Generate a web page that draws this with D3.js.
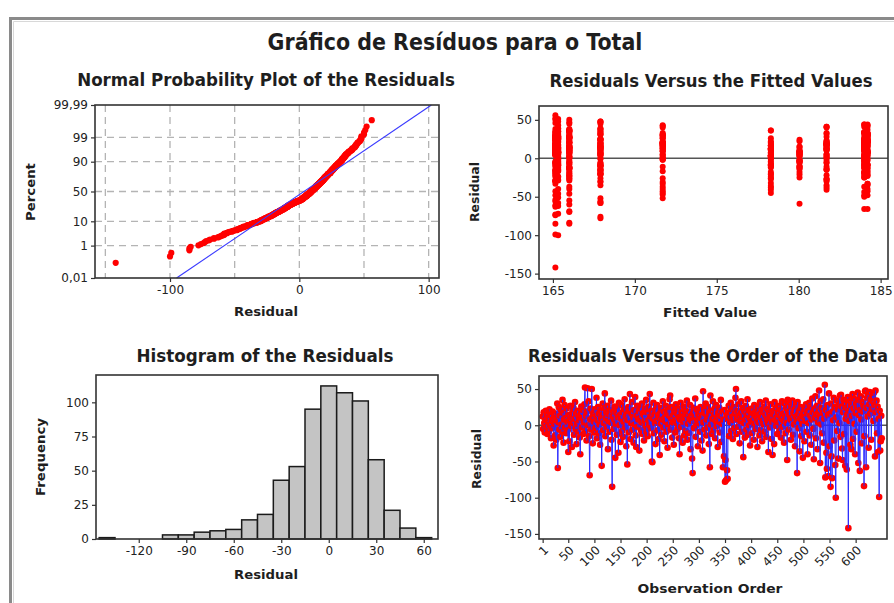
<!DOCTYPE html>
<html><head><meta charset="utf-8">
<script src="https://cdn.jsdelivr.net/npm/d3@7"></script>
<style>body{margin:0;background:#fff;}svg{display:block;}</style>
</head><body>
<svg id="chart" width="894" height="603"></svg>
<script>
// ---------------- DATA ----------------
// residuals in observation order (read/estimated from the "Versus Order" panel)
const residuals = [
12,-5,18,3,-10,8,20,-2,15,-12,5,10,-8,22,0,14,-18,6,-4,19,9,-28,2,16,-14,
7,-20,11,30,-59,4,25,-6,13,-16,21,1,-9,35,17,-24,8,28,-3,10,-11,23,5,-7,-37,
14,-22,6,27,-1,11,-30,18,3,24,-13,9,32,-5,16,-26,2,20,-9,12,7,-17,-40,15,26,
-3,10,21,-12,4,29,52,-8,13,-21,19,51,0,33,-15,-69,8,23,-6,50,11,-25,17,5,-10,
22,-4,13,38,-18,7,25,-11,16,1,-27,20,9,-56,14,30,-7,3,24,44,-15,10,18,-2,27,
-33,6,15,-9,21,4,34,-20,-85,12,19,-5,8,26,-45,2,17,-13,23,11,-38,31,0,14,-23,
9,28,-8,18,-16,5,22,36,-3,12,-29,15,-54,7,25,-10,20,43,-19,3,16,32,-6,11,-24,
21,1,39,-14,-30,13,27,-2,8,19,-35,10,24,-7,4,30,-12,17,14,-21,6,23,-1,35,-9,
18,-15,7,26,0,43,12,-4,20,-50,-51,9,31,-11,15,3,-26,22,6,28,-7,14,-19,10,-41,
17,2,24,-13,8,33,-3,19,-22,11,5,27,-9,16,-31,21,1,13,36,41,-6,9,25,-17,4,
14,-27,20,7,-10,29,3,16,-5,23,11,-18,-40,8,31,-2,18,12,-24,5,26,-14,10,21,-8,
15,34,-20,2,19,-11,9,28,-33,13,6,-46,-66,17,24,-4,11,37,-16,0,22,7,-29,15,3,
19,-9,25,10,-21,14,-35,47,4,22,-6,16,30,-14,8,26,-3,12,-26,18,-58,41,1,20,-12,
9,33,-7,15,23,-18,6,28,-1,11,-30,17,5,24,-10,13,35,-23,2,19,-58,8,-43,21,-78,
-48,-76,14,-62,-74,10,27,-15,18,4,31,-8,22,12,-19,7,25,-4,16,38,50,-12,9,20,-2,
29,13,-25,6,17,33,-9,11,24,-44,3,19,-17,8,27,-6,14,36,-13,21,0,10,-28,18,5,
23,-11,7,16,-20,28,2,13,-5,19,9,-30,25,4,15,-14,32,11,-7,21,-22,6,18,1,26,
-9,14,34,-16,8,22,3,-37,17,10,-3,29,12,-19,5,-41,20,15,-26,32,7,24,-1,11,-12,
18,4,27,-8,13,21,-17,9,33,-2,16,6,-24,30,12,-11,24,3,-48,35,19,-6,14,31,8,
-20,26,10,34,-13,17,1,22,-29,12,28,5,-66,32,15,-4,20,-36,9,25,-15,13,2,-45,18,
11,-22,24,6,29,-9,16,-40,20,3,31,-14,13,25,-27,8,37,18,-5,-47,22,10,40,-18,15,
27,-33,4,19,48,12,-52,33,1,24,-11,17,36,-24,9,56,-72,21,-38,-60,28,14,-70,44,-29,
16,-85,30,-43,-73,19,7,38,-21,25,-55,-100,11,34,-8,22,-46,29,3,41,-16,42,26,-32,-48,
18,35,-12,31,-56,9,24,-61,15,39,-142,20,6,33,-27,28,-33,13,43,-19,23,37,2,-40,17,
30,-9,25,45,-52,14,35,-63,21,40,8,-25,32,19,27,-84,-15,47,48,-58,24,38,12,44,-31,
29,46,16,36,-20,22,41,33,6,45,28,-43,48,18,34,-11,26,-37,9,-99,20,-35,-22,13,-18
];
// fitted-value level index for each observation
const fittedGroup = [
2,0,8,5,3,1,9,6,4,2,7,0,5,9,3,1,8,2,6,4,0,7,5,9,1,
3,2,8,0,6,9,1,5,7,0,4,2,9,3,8,5,1,7,2,0,4,9,3,8,4,
0,9,1,2,5,8,3,7,6,0,2,4,9,1,5,3,8,2,0,7,9,1,4,3,5,
8,2,1,5,0,4,0,9,3,6,8,1,2,7,0,2,5,9,3,2,1,8,4,0,6,
1,0,5,2,8,9,3,6,2,4,7,0,8,3,1,9,2,5,6,8,3,0,7,4,2,
9,1,0,5,2,3,8,0,2,4,7,6,9,1,5,2,3,8,0,7,5,4,1,2,9,
3,0,2,7,9,1,6,5,8,0,2,4,0,3,9,1,2,4,8,5,0,3,7,9,1,
2,8,1,3,0,5,9,4,6,0,7,2,8,1,3,4,9,0,2,5,6,7,3,1,8,
0,3,9,2,5,9,1,8,4,8,1,0,3,2,7,6,5,9,0,4,1,2,8,3,7,
5,1,0,9,2,8,6,3,0,7,4,2,1,8,3,9,5,0,2,7,3,6,1,4,0,
9,2,3,0,8,1,5,4,7,0,2,6,2,9,3,1,8,5,0,7,4,2,9,3,1,
0,8,5,2,9,3,1,0,4,7,6,2,8,1,3,5,2,9,0,4,8,3,1,6,2,
4,1,9,0,3,2,9,3,5,8,0,7,2,6,1,4,9,3,2,0,3,7,8,5,1,
2,0,8,3,9,5,1,2,4,0,7,9,6,1,3,8,0,2,5,9,3,1,4,7,3,
9,3,0,1,0,8,2,7,4,5,1,3,9,6,2,0,8,1,5,3,0,2,9,4,7,
0,1,8,6,2,9,3,5,0,8,4,7,2,9,1,0,3,5,6,2,8,4,1,3,9,
2,0,5,8,3,1,9,4,2,7,6,0,3,8,1,2,9,5,0,4,7,3,8,1,0,
9,2,3,1,0,5,7,8,4,2,6,9,1,3,0,5,8,2,4,7,1,0,9,3,2,
1,8,2,5,0,9,3,6,4,1,7,0,2,9,8,5,3,1,8,2,4,6,0,9,2,
3,0,1,8,2,5,7,9,0,3,1,4,9,2,8,6,0,5,1,3,7,2,8,4,0,
5,2,0,8,1,3,9,9,4,6,0,7,2,8,5,1,3,0,2,4,9,7,7,0,3,
1,0,5,3,3,8,4,9,7,2,6,0,2,1,4,0,1,8,7,2,9,3,2,9,0,
2,0,9,0,0,4,6,1,3,8,2,1,5,0,9,7,1,2,8,8,3,4,0,5,0,
7,2,8,4,0,9,1,0,6,3,0,5,2,8,7,1,9,4,1,0,3,2,5,1,8,
0,5,9,3,3,8,1,0,7,4,2,6,9,0,2,2,1,2,1,1,8,0,5,8,4,
8,0,3,2,9,4,9,1,5,2,0,9,3,8,2,7,1,2,6,0,4,3,8,5,9
];
const fittedLevels = [165.15,165.32,166.0,167.9,171.7,178.3,180.05,181.7,184.0,184.2];
// histogram (bin centres / counts)
const histCenters = [-140,-130,-120,-110,-100,-90,-80,-70,-60,-50,-40,-30,-20,-10,0,10,20,30,40,50,60];
const histCounts  = [1,0,0,0,3,3,5,6,7,14,18,43,53,95,112,107,101,58,21,8,1];
// tick labels
const probTickPct    = [0.01,1,10,50,90,99,99.99];
const probTickLabels = ["0,01","1","10","50","90","99","99,99"];
const probGridPct    = [1,10,50,90,99];
const probXTicks     = [-100,0,100];
const probXGrid      = [-150,-100,-50,0,50,100];
const residTicks     = [50,0,-50,-100,-150];
const fittedTicks    = [165,170,175,180,185];
const histXTicks     = [-120,-90,-60,-30,0,30,60];
const histYTicks     = [0,25,50,75,100];
const orderTicks     = [1,50,100,150,200,250,300,350,400,450,500,550,600];

const mainTitle = "Gráfico de Resíduos para o Total";
const titles = ["Normal Probability Plot of the Residuals","Residuals Versus the Fitted Values",
                "Histogram of the Residuals","Residuals Versus the Order of the Data"];

// ---------------- HELPERS ----------------
function qnorm(p){
  const a=[-3.969683028665376e+01,2.209460984245205e+02,-2.759285104469687e+02,1.383577518672690e+02,-3.066479806614716e+01,2.506628277459239e+00];
  const b=[-5.447609879822406e+01,1.615858368580409e+02,-1.556989798598866e+02,6.680131188771972e+01,-1.328068155288572e+01];
  const c=[-7.784894002430293e-03,-3.223964580411365e-01,-2.400758277161838e+00,-2.549732539343734e+00,4.374664141464968e+00,2.938163982698783e+00];
  const d=[7.784695709041462e-03,3.224671290700398e-01,2.445134137142996e+00,3.754408661907416e+00];
  const pl=0.02425, ph=1-pl; let q,r;
  if(p<pl){q=Math.sqrt(-2*Math.log(p));return (((((c[0]*q+c[1])*q+c[2])*q+c[3])*q+c[4])*q+c[5])/((((d[0]*q+d[1])*q+d[2])*q+d[3])*q+1);}
  if(p>ph){q=Math.sqrt(-2*Math.log(1-p));return -(((((c[0]*q+c[1])*q+c[2])*q+c[3])*q+c[4])*q+c[5])/((((d[0]*q+d[1])*q+d[2])*q+d[3])*q+1);}
  q=p-0.5;r=q*q;return (((((a[0]*r+a[1])*r+a[2])*r+a[3])*r+a[4])*r+a[5])*q/(((((b[0]*r+b[1])*r+b[2])*r+b[3])*r+b[4])*r+1);
}
const svg = d3.select("#chart");
const FONT = "DejaVu Sans, Verdana, sans-serif";
const RED = "#ff0000", BLUE = "#2a2aff", INK = "#1e1e1e";

// bold text squeezed horizontally (via transform) to a target width
function title(x, y, str, size, len, rot){
  const t = svg.append("text").attr("text-anchor","middle")
    .attr("font-family",FONT).attr("font-weight","bold").attr("font-size",size)
    .attr("fill",INK).text(str);
  const w = t.node().getComputedTextLength();
  const s = w>0 ? len/w : 1;
  t.attr("transform", rot ? `translate(${x},${y}) rotate(-90) scale(${s},1)`
                          : `translate(${x},${y}) scale(${s},1)`);
}
function ylabel(x, y, str, len){ title(x, y, str, 12.5, len, true); }
function styleAxis(g){
  g.attr("font-family",FONT).attr("font-size",12);
  g.select(".domain").remove();
  g.selectAll(".tick line").attr("stroke","#333").attr("stroke-width",1.2);
  g.selectAll(".tick text").attr("fill","#222");
}
function frame(x0,y0,x1,y1){
  svg.append("rect").attr("x",x0).attr("y",y0).attr("width",x1-x0).attr("height",y1-y0)
    .attr("fill","none").attr("stroke","#333").attr("stroke-width",1.6);
}
const neg = d=>d<0?"-"+Math.abs(d):d;

// outer window frame
svg.append("path").attr("d","M10.5,603 V18.5 H894").attr("fill","none").attr("stroke","#8a8a8a").attr("stroke-width",3);
svg.append("path").attr("d","M13.5,603 V21.5 H894").attr("fill","none").attr("stroke","#d8d8d8").attr("stroke-width",1);

title(455, 50, mainTitle, 23, 375);
title(266, 86, titles[0], 17, 378);
title(711, 87, titles[1], 17, 323);
title(265, 362, titles[2], 17, 257);
title(708, 362, titles[3], 17, 360);

// ---------------- PANEL 1: normal probability ----------------
{
  const x0=95,x1=439,y0=105,y1=278;
  const x = d3.scaleLinear().domain([-158,108]).range([x0,x1]);
  const zlo=qnorm(0.0001), zhi=qnorm(0.9999);
  const y = d3.scaleLinear().domain([zlo,zhi]).range([y1,y0]);
  const g = svg.append("g");
  probGridPct.forEach(p=>g.append("line").attr("x1",x0).attr("x2",x1)
     .attr("y1",y(qnorm(p/100))).attr("y2",y(qnorm(p/100)))
     .attr("stroke","#b4b4b4").attr("stroke-dasharray","7,5").attr("stroke-width",1.3));
  probXGrid.forEach(v=>g.append("line").attr("y1",y0).attr("y2",y1).attr("x1",x(v)).attr("x2",x(v))
     .attr("stroke","#b4b4b4").attr("stroke-dasharray","7,5").attr("stroke-width",1.3));
  const n = residuals.length;
  const sorted = residuals.slice().sort((a,b)=>a-b);
  const pts = sorted.map((r,i)=>({r, z: qnorm((i+1-0.3)/(n+0.4))}));
  const mean = d3.mean(residuals), sd = d3.deviation(residuals);
  g.selectAll("circle").data(pts).join("circle")
    .attr("cx",d=>x(d.r)).attr("cy",d=>y(d.z)).attr("r",3.1).attr("fill",RED);
  g.append("line").attr("x1",x(mean+sd*zlo)).attr("y1",y(zlo)).attr("x2",x(mean+sd*zhi)).attr("y2",y(zhi))
    .attr("stroke","#3a3aff").attr("stroke-width",1.1);
  const ax = svg.append("g").attr("transform",`translate(0,${y1})`)
    .call(d3.axisBottom(x).tickValues(probXTicks).tickSize(4).tickFormat(neg));
  styleAxis(ax);
  const ay = svg.append("g").attr("transform",`translate(${x0},0)`)
    .call(d3.axisLeft(y).tickValues(probTickPct.map(p=>qnorm(p/100))).tickSize(4)
      .tickFormat((d,i)=>probTickLabels[i]));
  styleAxis(ay);
  frame(x0,y0,x1,y1);
  title(266, 316, "Residual", 12.5, 64);
  ylabel(35, 192, "Percent", 58);
}

// ---------------- PANEL 2: versus fits ----------------
{
  const x0=539,x1=888,y0=106,y1=279;
  const x = d3.scaleLinear().domain([164.15,185.45]).range([x0,x1]);
  const y = d3.scaleLinear().domain([-157,68]).range([y1,y0]);
  const g = svg.append("g");
  g.append("line").attr("x1",x0).attr("x2",x1).attr("y1",y(0)).attr("y2",y(0))
    .attr("stroke","#555").attr("stroke-width",1.6);
  g.selectAll("circle").data(residuals.map((r,i)=>({r,f:fittedLevels[fittedGroup[i]]}))).join("circle")
    .attr("cx",d=>x(d.f)).attr("cy",d=>y(d.r)).attr("r",3).attr("fill",RED);
  const ax = svg.append("g").attr("transform",`translate(0,${y1})`)
    .call(d3.axisBottom(x).tickValues(fittedTicks).tickSize(4).tickFormat(d3.format("d")));
  styleAxis(ax);
  const ay = svg.append("g").attr("transform",`translate(${x0},0)`)
    .call(d3.axisLeft(y).tickValues(residTicks).tickSize(4).tickFormat(neg));
  styleAxis(ay);
  frame(x0,y0,x1,y1);
  title(710, 317, "Fitted Value", 12.5, 94);
  ylabel(479, 192, "Residual", 60);
}

// ---------------- PANEL 3: histogram ----------------
{
  const x0=96,x1=438,y0=375,y1=539;
  const x = d3.scaleLinear().domain([-147,69]).range([x0,x1]);
  const y = d3.scaleLinear().domain([0,120]).range([y1,y0]);
  const g = svg.append("g");
  g.selectAll("rect").data(histCenters.map((c,i)=>({c,n:histCounts[i]})).filter(d=>d.n>0)).join("rect")
    .attr("x",d=>x(d.c-5)).attr("width",d=>x(d.c+5)-x(d.c-5))
    .attr("y",d=>y(d.n)).attr("height",d=>y(0)-y(d.n))
    .attr("fill","#c4c4c4").attr("stroke","#1a1a1a").attr("stroke-width",1.5);
  const ax = svg.append("g").attr("transform",`translate(0,${y1})`)
    .call(d3.axisBottom(x).tickValues(histXTicks).tickSize(4).tickFormat(neg));
  styleAxis(ax);
  const ay = svg.append("g").attr("transform",`translate(${x0},0)`)
    .call(d3.axisLeft(y).tickValues(histYTicks).tickSize(4));
  styleAxis(ay);
  frame(x0,y0,x1,y1);
  title(266, 579, "Residual", 12.5, 64);
  ylabel(45, 457, "Frequency", 78);
}

// ---------------- PANEL 4: versus order ----------------
{
  const x0=539,x1=887,y0=376,y1=539;
  const x = d3.scaleLinear().domain([-6,660]).range([x0,x1]);
  const y = d3.scaleLinear().domain([-157,68]).range([y1,y0]);
  const g = svg.append("g");
  g.append("line").attr("x1",x0).attr("x2",x1).attr("y1",y(0)).attr("y2",y(0))
    .attr("stroke","#555").attr("stroke-width",1.6);
  const data = residuals.map((r,i)=>({i:i+1,r}));
  // draw like Minitab: connecting segment to each point, then that point's symbol
  data.forEach((d,k)=>{
    if(k>0){
      const p = data[k-1];
      g.append("line").attr("x1",x(p.i)).attr("y1",y(p.r)).attr("x2",x(d.i)).attr("y2",y(d.r))
        .attr("stroke",BLUE).attr("stroke-width",1);
    }
    g.append("circle").attr("cx",x(d.i)).attr("cy",y(d.r)).attr("r",3.3).attr("fill",RED);
  });
  const ax = svg.append("g").attr("transform",`translate(0,${y1})`)
    .call(d3.axisBottom(x).tickValues(orderTicks).tickSize(4).tickFormat(d3.format("d")));
  styleAxis(ax);
  ax.selectAll(".tick text").attr("x",0).attr("y",0).attr("dy","0.35em")
    .attr("transform","translate(3,9) rotate(-45)").style("text-anchor","end");
  const ay = svg.append("g").attr("transform",`translate(${x0},0)`)
    .call(d3.axisLeft(y).tickValues(residTicks).tickSize(4).tickFormat(neg));
  styleAxis(ay);
  frame(x0,y0,x1,y1);
  title(710, 593, "Observation Order", 12.5, 145);
  ylabel(481, 459, "Residual", 60);
}
</script>
</body></html>
